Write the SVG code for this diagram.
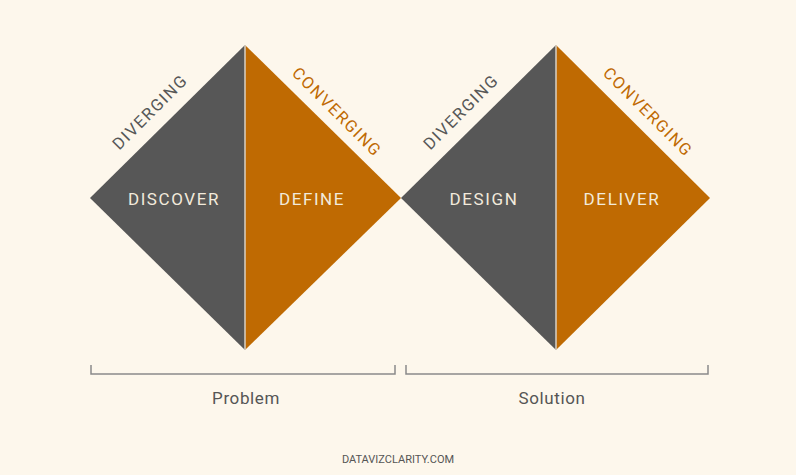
<svg xmlns="http://www.w3.org/2000/svg" width="796" height="475" viewBox="0 0 796 475">
<style>
.dark{fill:#575757}
.orng{fill:#BF6A02}
.div{stroke:#d8d0c4;stroke-width:1.5}
.lbl{font-family:Roboto,"Liberation Sans",sans-serif;font-size:17px;fill:#F2EADC;letter-spacing:1.6px;text-anchor:middle}
.edge{font-family:Roboto,"Liberation Sans",sans-serif;font-size:16.5px;letter-spacing:1.6px;text-anchor:middle}
.br{fill:none;stroke:#8a8a8a;stroke-width:1.5}
.cap{font-family:Roboto,"Liberation Sans",sans-serif;font-size:17px;fill:#555;letter-spacing:0.6px;text-anchor:middle}
</style>
<rect width="796" height="475" fill="#FDF7EC"/>
<g id="discover">
<polygon class="dark" points="90,198 245,45 245,350"/>
<text class="lbl" x="174" y="205">DISCOVER</text>
</g>
<g id="define">
<polygon class="orng" points="245,45 401,198 245,350"/>
<text class="lbl" x="312" y="205">DEFINE</text>
</g>
<g id="design">
<polygon class="dark" points="401,198 556,45 556,350"/>
<text class="lbl" x="484" y="205">DESIGN</text>
</g>
<g id="deliver">
<polygon class="orng" points="556,45 710,198 556,350"/>
<text class="lbl" x="622" y="205">DELIVER</text>
</g>
<g id="connectors">
<line class="div" x1="245" y1="45" x2="245" y2="350"/>
<line class="div" x1="556" y1="45" x2="556" y2="350"/>
<polyline class="br" points="91,365 91,374 395,374 395,365"/>
<polyline class="br" points="406,365 406,374 708,374 708,365"/>
</g>
<g id="edge-labels">
<text class="edge" fill="#575757" transform="translate(154,116) rotate(-45)">DIVERGING</text>
<text class="edge" fill="#BF6A02" transform="translate(333,116) rotate(45)">CONVERGING</text>
<text class="edge" fill="#575757" transform="translate(465,116) rotate(-45)">DIVERGING</text>
<text class="edge" fill="#BF6A02" transform="translate(644,116) rotate(45)">CONVERGING</text>
</g>
<g id="captions">
<text class="cap" x="246" y="404">Problem</text>
<text class="cap" x="552" y="404">Solution</text>
<text x="398" y="463" style="font-family:Roboto,'Liberation Sans',sans-serif;font-size:11px;fill:#555;text-anchor:middle">DATAVIZCLARITY.COM</text>
</g>
</svg>
